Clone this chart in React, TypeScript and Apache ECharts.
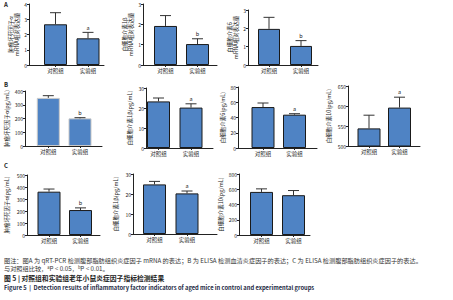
import React, { useEffect, useRef } from 'react';
import * as echarts from 'echarts';

const categories = ['对照组', '实验组'];

const panelNames = [
  '肿瘤坏死因子α\nmRNA相对表达量',
  '白细胞介素1β\nmRNA相对表达量',
  '白细胞介素6\nmRNA相对表达量',
  '肿瘤坏死因子α(pg/mL)',
  '白细胞介素1β(pg/mL)',
  '白细胞介素6(pg/mL)',
  '白细胞介素10(pg/mL)',
  '肿瘤坏死因子α(pg/mL)',
  '白细胞介素1β(pg/mL)',
  '白细胞介素10(pg/mL)',
];

const meanValues = [
  [2.67, 1.75],
  [1.92, 1.03],
  [1.97, 1.04],
  [350, 201],
  [23.3, 20.2],
  [53.7, 43.7],
  [544, 596],
  [361, 208],
  [24.8, 20.3],
  [565, 522],
];

const errorTops = [
  [3.43, 2.14],
  [2.43, 1.29],
  [2.6, 1.33],
  [366, 206],
  [25, 22.1],
  [59, 45],
  [577, 622],
  [383, 226],
  [26.3, 21.5],
  [605, 583],
];

const sigLetters = [
  ['', 'a'],
  ['', 'b'],
  ['', 'b'],
  ['', 'b'],
  ['', 'a'],
  ['', 'a'],
  ['', 'a'],
  ['', 'b'],
  ['', 'a'],
  ['', ''],
];

const yMins = [0, 0, 0, 0, 0, 0, 500, 0, 0, 0];
const yMaxs = [4, 3, 3, 400, 30, 80, 650, 500, 30, 800];
const yIntervals = [1, 1, 1, 100, 10, 20, 50, 100, 10, 200];

const panelLetters = ['A', 'B', 'C'];

const captionLines = [
  '图注：图A 为 qRT-PCR 检测腹部脂肪组织炎症因子 mRNA 的表达；B 为 ELISA 检测血清炎症因子的表达；C 为 ELISA 检测腹部脂肪组织炎症因子的表达。',
  '与对照组比较，{s|a}P < 0.05，{s|b}P < 0.01。',
  '图 5 | 对照组和实验组老年小鼠炎症因子指标检测结果',
  'Figure 5  |  Detection results of inflammatory factor indicators of aged mice in control and experimental groups',
];

// layout: [axisLeft, axisRight, top, bottom, center1, center2, barWidth, nameGap, borderColor]
const layout: [number, number, number, number, number, number, number, number, string][] = [
  [29, 104, 4, 65, 55.5, 88, 23, 8, '#1a1a1a'],
  [143, 217, 4, 65, 165.5, 197.5, 23, 8, '#1a1a1a'],
  [248, 318, 10, 65, 269, 301, 22, 8, '#1a1a1a'],
  [25, 102, 91, 146, 48.3, 80, 23, 15, '#c8c8c8'],
  [146, 213, 88, 148, 158.5, 191, 23, 13, '#1a1a1a'],
  [238, 317, 87, 148, 263, 294.5, 23, 12, '#1a1a1a'],
  [348, 420, 86, 146, 369, 399.5, 23, 16, '#1a1a1a'],
  [27, 100, 175, 235, 49, 80.5, 23, 17, '#1a1a1a'],
  [133, 217, 174, 234, 154.5, 187, 23, 14, '#1a1a1a'],
  [239, 310, 174, 235, 261.5, 293.5, 23, 15, '#1a1a1a'],
];

const FONT = '"Noto Sans CJK SC", "Noto Sans", sans-serif';
const BAR_COLOR = '#4f83c4';
const INK = '#222';

export default function App() {
  const ref = useRef<HTMLDivElement>(null);
  useEffect(() => {
    if (!ref.current) return;
    const chart = echarts.init(ref.current, null, { renderer: 'svg' });
    const grids: any[] = [];
    const xAxes: any[] = [];
    const yAxes: any[] = [];
    const series: any[] = [];
    layout.forEach((l, i) => {
      const [L, R, T, B, c1, c2, bw, gap, border] = l;
      const s = c2 - c1;
      grids.push({ left: L, top: T, width: R - L, height: B - T });
      xAxes.push({
        type: 'value',
        gridIndex: i,
        min: -(c1 - L) / s,
        max: 1 + (R - c2) / s,
        axisLine: { show: true, onZero: false, lineStyle: { color: INK, width: 1 } },
        splitLine: { show: false },
        axisTick: { show: true, customValues: [0, 1], length: 2, lineStyle: { color: INK } },
        axisLabel: {
          customValues: [0, 1],
          formatter: (v: number) => categories[Math.round(v)] || '',
          fontSize: 5.5,
          margin: 3,
          color: INK,
          fontFamily: FONT,
        },
      });
      yAxes.push({
        type: 'value',
        gridIndex: i,
        min: yMins[i],
        max: yMaxs[i],
        interval: yIntervals[i],
        axisLine: { show: true, onZero: false, lineStyle: { color: INK, width: 1 } },
        axisTick: { show: true, length: 2, lineStyle: { color: INK } },
        splitLine: { show: false },
        axisLabel: { fontSize: 5, margin: 2, color: INK, fontFamily: FONT },
        name: panelNames[i],
        nameLocation: 'middle',
        nameGap: gap,
        nameTextStyle: { fontSize: 5.5, color: INK, fontFamily: FONT, lineHeight: 6.5 },
      });
      series.push({
        type: 'bar',
        xAxisIndex: i,
        yAxisIndex: i,
        barWidth: bw,
        data: meanValues[i].map((v, j) => [j, v]),
        itemStyle: { color: BAR_COLOR, borderColor: border, borderWidth: 1 },
        z: 2,
      });
      series.push({
        type: 'custom',
        xAxisIndex: i,
        yAxisIndex: i,
        data: meanValues[i].map((v, j) => [j, v, errorTops[i][j]]),
        z: 3,
        itemStyle: { color: INK },
        renderItem: (params: any, api: any) => {
          const x = api.value(0);
          const p0 = api.coord([x, api.value(1)]);
          const p1 = api.coord([x, api.value(2)]);
          const letter = sigLetters[i][params.dataIndex];
          const children: any[] = [
            { type: 'line', shape: { x1: p0[0], y1: p0[1], x2: p1[0], y2: p1[1] }, style: { stroke: '#333', lineWidth: 1 } },
            { type: 'line', shape: { x1: p1[0] - 5.5, y1: p1[1], x2: p1[0] + 5.5, y2: p1[1] }, style: { stroke: '#333', lineWidth: 1 } },
          ];
          if (letter) {
            children.push({
              type: 'text',
              x: p1[0],
              y: p1[1] - 2,
              style: { text: letter, fontSize: 5.5, fill: INK, align: 'center', verticalAlign: 'bottom', fontFamily: FONT },
            });
          }
          return { type: 'group', children };
        },
      });
    });

    const graphics: any[] = [];
    const letterY = [4, 84, 165];
    panelLetters.forEach((t, k) => {
      graphics.push({
        type: 'text',
        x: 4,
        y: letterY[k],
        style: { text: t, fontSize: 6, fontWeight: 'bold', fill: INK, fontFamily: FONT, verticalAlign: 'middle' },
      });
    });
    const capY = [260, 268.5, 278, 287];
    const capSize = [6.2, 6.2, 6.8, 5.75];
    const capWeight = ['normal', 'normal', 'bold', 'bold'];
    const capColor = ['#333', '#333', '#222', '#1d2a44'];
    captionLines.forEach((t, k) => {
      graphics.push({
        type: 'text',
        x: 4,
        y: capY[k],
        style: {
          text: t,
          fontSize: capSize[k],
          fontWeight: capWeight[k],
          fill: capColor[k],
          fontFamily: FONT,
          verticalAlign: 'middle',
          rich: { s: { fontSize: 4, verticalAlign: 'top', fill: capColor[k], fontFamily: FONT, padding: [0, 0, 3, 0] } },
        },
      });
    });

    chart.setOption({
      animation: false,
      backgroundColor: '#fff',
      grid: grids,
      xAxis: xAxes,
      yAxis: yAxes,
      series,
      graphic: graphics,
    });
    return () => chart.dispose();
  }, []);
  return <div ref={ref} style={{ position: 'absolute', left: 0, top: 0, width: 453, height: 300 }} />;
}
